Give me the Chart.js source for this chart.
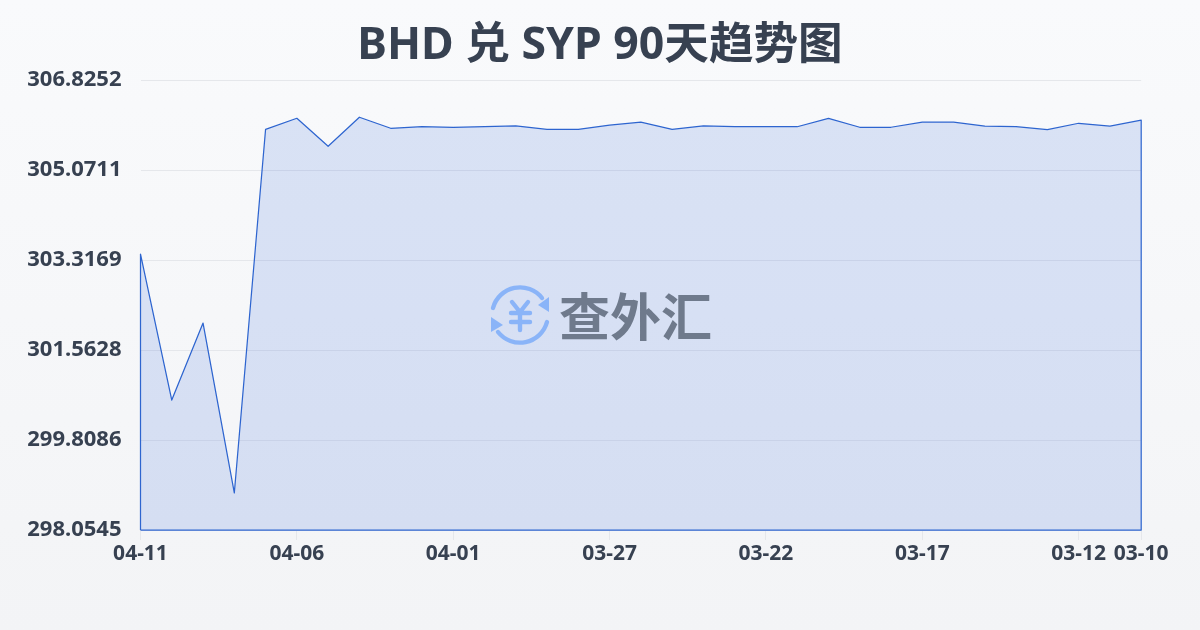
<!DOCTYPE html>
<html lang="zh">
<head>
<meta charset="utf-8">
<title>BHD 兑 SYP 90天趋势图</title>
<script src="https://cdn.jsdelivr.net/npm/chart.js@4"></script>
<style>
html,body{margin:0;padding:0;width:1200px;height:630px;overflow:hidden}
body{background:linear-gradient(180deg,#f9fafc 0%,#f3f4f6 100%);position:relative;font-family:"Noto Sans","Noto Sans CJK SC",sans-serif}
#wrap{position:absolute;left:0;top:0;width:1200px;height:630px}
#mark{position:absolute;left:488px;top:284px;width:64px;height:62px}
#markText{position:absolute;left:559px;top:279px;font:700 51px/70px "Noto Sans CJK SC",sans-serif;color:#6f7a8c;white-space:nowrap}
</style>
</head>
<body>
<div id="wrap"><canvas id="c" width="1200" height="630"></canvas></div>
<svg id="mark" viewBox="0 0 64 62" fill="none" stroke="#8ab4f8" stroke-width="4.4" stroke-linecap="round">
  <path d="M5 24A28 28 0 0 1 54 14"/>
  <path d="M59 38A28 28 0 0 1 10 48"/>
  <path d="M61 13V28L50 21Z" fill="#8ab4f8" stroke="none"/>
  <path d="M3 33V48L15 41Z" fill="#8ab4f8" stroke="none"/>
  <path d="M24 18L32 28L40 18M23 29H42M23 38H42M32 28V46"/>
</svg>
<div id="markText">查外汇</div>
<script>
const dates = ["04-11","04-10","04-09","04-08","04-07","04-06","04-05","04-04","04-03","04-02","04-01","03-31","03-30","03-29","03-28","03-27","03-26","03-25","03-24","03-23","03-22","03-21","03-20","03-19","03-18","03-17","03-16","03-15","03-14","03-13","03-12","03-11","03-10"];
const rates = [303.434,300.588,302.089,298.776,305.865,306.080,305.535,306.100,305.885,305.915,305.905,305.915,305.933,305.865,305.865,305.945,306.003,305.865,305.933,305.915,305.915,305.915,306.080,305.905,305.905,306.003,306.003,305.925,305.915,305.857,305.983,305.925,306.042];
const yTicks = [298.0545,299.8086,301.5628,303.3169,305.0711,306.8252];
const xTickLabels = ["04-11","04-06","04-01","03-27","03-22","03-17","03-12","03-10"];
const titleText = "BHD 兑 SYP 90天趋势图";

const yMin = yTicks[0], yMax = yTicks[yTicks.length-1];
const series = rates.map((v,i)=>({x:i,y:v}));
const outline = [{x:0,y:yMin}].concat(series,[{x:rates.length-1,y:yMin},{x:0,y:yMin}]);
const FONT = '"Noto Sans","Noto Sans CJK SC",sans-serif';

new Chart(document.getElementById('c'),{
  type:'line',
  data:{datasets:[{
    label:'BHD/SYP',
    data:series,
    borderWidth:0,
    backgroundColor:'rgba(40,95,215,0.15)',
    fill:'start',
    pointRadius:0,
    tension:0
  },{
    label:'outline',
    data:outline,
    borderColor:'#2f66cf',
    borderWidth:1.25,
    borderJoinStyle:'round',
    fill:false,
    pointRadius:0,
    tension:0,
    clip:3
  }]},
  options:{
    responsive:false,
    animation:false,
    plugins:{
      legend:{display:false},
      tooltip:{enabled:false},
      title:{display:true,text:titleText,color:'#374151',
        font:{family:FONT,size:44.6,weight:'700',lineHeight:1.2},
        padding:{top:20,bottom:6.53}}
    },
    scales:{
      x:{
        type:'linear',min:0,max:rates.length-1,
        afterFit(s){s.height=100},
        afterBuildTicks(s){s.ticks=xTickLabels.map(l=>({value:dates.indexOf(l)}))},
        grid:{drawOnChartArea:false,color:'#e5e7eb',tickLength:10,lineWidth:1},
        border:{display:false},
        ticks:{autoSkip:false,maxRotation:0,color:'#374151',padding:1,
          font:{family:FONT,size:21,weight:'700'},
          callback:v=>dates[v]}
      },
      y:{
        type:'linear',min:yMin,max:yMax,
        afterFit(s){s.width=140.5},
        afterBuildTicks(s){s.ticks=yTicks.map(v=>({value:v}))},
        grid:{color:'#e5e7eb',lineWidth:1,drawTicks:false},
        border:{display:false},
        ticks:{autoSkip:false,color:'#374151',padding:19,
          font:{family:FONT,size:22,weight:'700'},
          callback:v=>v.toFixed(4)}
      },
      yRight:{
        type:'linear',position:'right',min:yMin,max:yMax,
        afterFit(s){s.width=58.8},
        grid:{drawOnChartArea:false,drawTicks:false},
        border:{display:false},
        ticks:{display:false}
      }
    }
  }
});
</script>
</body>
</html>
